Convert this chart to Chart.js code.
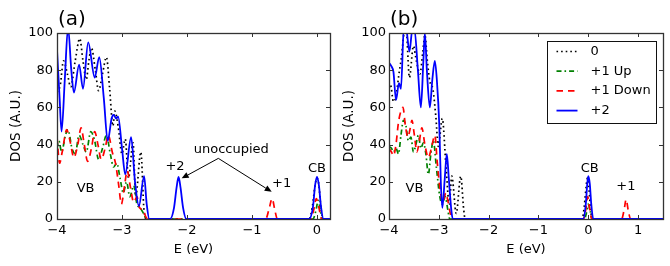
<!DOCTYPE html>
<html><head><meta charset="utf-8">
<script src="https://cdn.jsdelivr.net/npm/chart.js@4.4.0/dist/chart.umd.min.js"></script>
<style>
html,body{margin:0;padding:0;background:#fff;}
#wrap{position:relative;width:670px;height:266px;overflow:hidden;}
.c{position:absolute;top:0;width:335px;height:266px;}
</style></head><body>
<div id="wrap">
<div class="c" style="left:0"><canvas id="ca" width="335" height="266"></canvas></div>
<div class="c" style="left:335px"><canvas id="cb" width="335" height="266"></canvas></div>
</div>
<script>
// ---------- DATA (E in eV, DOS in A.U.) ----------
const seriesNames = ["0", "+1 Up", "+1 Down", "+2"];
const yTicks = [0, 20, 40, 60, 80, 100];
const xTicksA = [-4, -3, -2, -1, 0];
const xTicksB = [-4, -3, -2, -1, 0, 1];

// Panel (a)
const a_dos0 = [[-4.0,68],[-3.95,72],[-3.90,85],[-3.84,78],[-3.79,71],[-3.72,85],[-3.65,97],[-3.60,85],[-3.55,75],[-3.51,85],[-3.47,92],[-3.41,80],[-3.36,69],[-3.30,78],[-3.24,87],[-3.19,70],[-3.14,50],[-3.11,58],[-3.06,50],[-3.00,35],[-2.95,43],[-2.90,22],[-2.83,41],[-2.79,12],[-2.71,36],[-2.66,4],[-2.62,0],[-2.4,0],[-0.12,0],[-0.07,7],[-0.03,18],[0.0,22],[0.03,18],[0.06,6],[0.10,0],[0.2,0]];
const a_up1 = [[-4.0,38],[-3.97,42],[-3.93,36],[-3.87,45],[-3.83,48],[-3.77,38],[-3.72,35],[-3.66,45],[-3.60,40],[-3.55,36],[-3.48,47],[-3.42,42],[-3.36,32],[-3.30,38],[-3.24,45],[-3.18,35],[-3.13,28],[-3.08,30],[-3.03,22],[-2.98,14],[-2.93,20],[-2.88,12],[-2.82,18],[-2.77,8],[-2.72,6],[-2.67,3],[-2.62,0],[-2.4,0],[-0.06,0],[-0.02,4],[0.02,10],[0.05,5],[0.09,0],[0.2,0]];
const a_down1 = [[-4.0,44],[-3.96,30],[-3.92,36],[-3.85,48],[-3.80,42],[-3.74,33],[-3.68,40],[-3.63,49],[-3.58,40],[-3.53,31],[-3.47,38],[-3.42,47],[-3.37,40],[-3.32,32],[-3.26,38],[-3.21,45],[-3.15,36],[-3.10,30],[-3.05,18],[-3.01,8],[-2.96,18],[-2.92,26],[-2.87,17],[-2.82,9],[-2.77,12],[-2.73,6],[-2.68,5],[-2.63,1],[-2.60,0],[-0.79,0],[-0.74,5],[-0.69,11],[-0.65,5],[-0.61,0],[-0.10,0],[-0.05,5],[-0.01,11],[0.03,6],[0.07,0],[0.2,0]];
const a_plus2 = [[-4.0,91],[-3.96,65],[-3.93,47],[-3.88,75],[-3.83,103],[-3.78,80],[-3.74,68],[-3.66,83],[-3.60,70],[-3.52,95],[-3.42,76],[-3.35,87],[-3.28,65],[-3.22,42],[-3.16,54],[-3.13,56],[-3.09,54],[-3.06,55],[-3.00,38],[-2.95,24],[-2.86,44],[-2.80,20],[-2.74,7],[-2.66,23],[-2.62,8],[-2.58,0],[-2.26,0],[-2.20,6],[-2.16,17],[-2.13,22.7],[-2.10,17],[-2.06,6],[-2.01,0],[-0.12,0],[-0.06,7],[-0.03,18],[0.0,22.7],[0.03,18],[0.06,7],[0.10,0],[0.2,0]];

// Panel (b)
const b_dos0 = [[-4.0,70],[-3.97,72],[-3.91,63],[-3.86,66],[-3.80,78],[-3.75,87],[-3.70,100],[-3.66,104],[-3.59,76],[-3.51,93],[-3.45,85],[-3.38,78],[-3.32,90],[-3.28,99],[-3.23,85],[-3.18,74],[-3.12,70],[-3.06,55],[-3.01,39],[-2.93,54],[-2.86,30],[-2.79,8],[-2.74,23],[-2.65,3],[-2.56,23],[-2.50,5],[-2.47,0],[-0.12,0],[-0.08,7],[-0.04,18],[-0.02,22],[0.01,18],[0.04,7],[0.08,0],[1.5,0]];
const b_up1 = [[-4.0,39],[-3.95,38],[-3.91,36],[-3.86,38],[-3.81,35],[-3.76,45],[-3.71,53],[-3.66,50],[-3.61,42],[-3.56,44],[-3.51,36],[-3.46,40],[-3.41,45],[-3.36,38],[-3.31,41],[-3.26,35],[-3.21,24],[-3.16,35],[-3.11,42],[-3.05,28],[-2.98,12],[-2.93,8],[-2.87,12],[-2.82,5],[-2.78,0],[-0.08,0],[-0.03,4],[0.0,8],[0.04,4],[0.08,0],[1.5,0]];
const b_down1 = [[-4.0,38],[-3.95,36],[-3.91,34],[-3.86,40],[-3.81,52],[-3.76,58],[-3.72,60],[-3.67,50],[-3.62,44],[-3.58,48],[-3.54,53],[-3.49,45],[-3.44,36],[-3.39,42],[-3.34,49],[-3.28,40],[-3.21,33],[-3.15,38],[-3.08,45],[-3.03,30],[-2.97,15],[-2.92,9],[-2.86,14],[-2.82,10],[-2.77,3],[-2.73,0],[-0.10,0],[-0.05,5],[-0.01,12],[0.03,5],[0.07,0],[0.67,0],[0.72,5],[0.76,10.5],[0.80,5],[0.85,0],[1.5,0]];
const b_plus2 = [[-4.0,84],[-3.95,82],[-3.91,79],[-3.86,64],[-3.80,73],[-3.76,70],[-3.70,104],[-3.65,102],[-3.59,90],[-3.53,102],[-3.49,102],[-3.42,80],[-3.36,60],[-3.31,85],[-3.28,100],[-3.24,80],[-3.18,60],[-3.13,75],[-3.08,85],[-3.04,75],[-2.99,50],[-2.96,20],[-2.93,6],[-2.88,22],[-2.84,35],[-2.80,22],[-2.75,5],[-2.72,0],[-0.10,0],[-0.05,8],[-0.02,19],[0.0,23],[0.03,19],[0.06,8],[0.10,0],[1.5,0]];

// Text annotations [text, E, DOS]
const a_notes = [["VB",-3.56,14.7],["+2",-2.185,26.3],["unoccupied",-1.318,35.5],["+1",-0.543,17.4],["CB",0.0,25.4]];
const a_arrows = [[-1.518,32.6,-2.082,21.85],[-1.518,32.6,-0.697,14.6]];
const b_notes = [["VB",-3.49,14.7],["CB",0.03,25.4],["+1",0.755,15.6]];

// ---------- STYLE ----------
const FONT = "'DejaVu Sans', 'Liberation Sans', sans-serif";
const styles = [
  {color:'#000000', dash:[1.6,3], width:1.7, order:3},
  {color:'#008000', dash:[5,3,1.6,3], width:1.7, order:2},
  {color:'#ff0000', dash:[6.5,5], width:1.7, order:1},
  {color:'#0000ff', dash:[], width:1.8, order:0},
];
const toPts = arr => arr.map(p => ({x:p[0], y:p[1]}));
const mkDatasets = list => list.map((arr,i) => ({
  label: seriesNames[i], data: toPts(arr),
  borderColor: styles[i].color, borderDash: styles[i].dash, borderWidth: styles[i].width,
  order: styles[i].order, pointRadius: 0, fill: false,
  cubicInterpolationMode: 'monotone', borderCapStyle: 'butt'
}));
const minus = v => v < 0 ? '\u2212' + Math.abs(v) : String(v);

const decor = {
  id: 'decor',
  afterDatasetsDraw(chart, args, o) {
    const {ctx, chartArea:{left,right,top,bottom}, scales:{x,y}} = chart;
    ctx.save();
    ctx.strokeStyle = '#333'; ctx.lineWidth = 1;
    ctx.beginPath();
    x.ticks.forEach(t => { const px = Math.round(x.getPixelForValue(t.value)) + 0.5;
      ctx.moveTo(px, bottom); ctx.lineTo(px, bottom - 4); ctx.moveTo(px, top); ctx.lineTo(px, top + 4); });
    y.ticks.forEach(t => { const py = Math.round(y.getPixelForValue(t.value)) + 0.5;
      ctx.moveTo(left, py); ctx.lineTo(left + 4, py); ctx.moveTo(right, py); ctx.lineTo(right - 4, py); });
    ctx.stroke();
    ctx.lineWidth = 1.3;
    ctx.strokeRect(Math.round(left)+0.5, Math.round(top)+0.5, Math.round(right-left), Math.round(bottom-top));
    ctx.fillStyle = '#000';
    ctx.font = '20px ' + FONT; ctx.textAlign = 'left'; ctx.textBaseline = 'alphabetic';
    ctx.fillText(o.tag, left + 1, top - 8);
    ctx.font = '13px ' + FONT; ctx.textAlign = 'center';
    (o.notes || []).forEach(n => ctx.fillText(n[0], x.getPixelForValue(n[1]), y.getPixelForValue(n[2])));
    (o.arrows || []).forEach(a => {
      const x0 = x.getPixelForValue(a[0]), y0 = y.getPixelForValue(a[1]);
      const x1 = x.getPixelForValue(a[2]), y1 = y.getPixelForValue(a[3]);
      const ang = Math.atan2(y1 - y0, x1 - x0), hl = 7, hw = 3;
      const bx = x1 - hl*Math.cos(ang), by = y1 - hl*Math.sin(ang);
      ctx.strokeStyle = '#000'; ctx.lineWidth = 1;
      ctx.beginPath(); ctx.moveTo(x0, y0); ctx.lineTo(bx, by); ctx.stroke();
      ctx.beginPath(); ctx.moveTo(x1, y1);
      ctx.lineTo(bx + hw*Math.sin(ang), by - hw*Math.cos(ang));
      ctx.lineTo(bx - hw*Math.sin(ang), by + hw*Math.cos(ang));
      ctx.closePath(); ctx.fill();
    });
    if (o.legend) {
      const bw = 109, bh = 82;
      const bxl = Math.round(right - 7.3 - bw) + 0.5, byt = Math.round(top + 7.7) + 0.5;
      ctx.fillStyle = '#fff'; ctx.fillRect(bxl, byt, bw, bh);
      ctx.strokeStyle = '#111'; ctx.lineWidth = 1; ctx.strokeRect(bxl, byt, bw, bh);
      ctx.textAlign = 'left'; ctx.textBaseline = 'middle'; ctx.font = '13px ' + FONT;
      chart.data.datasets.forEach((ds, i) => {
        const ry = byt + 10 + i * 19.7;
        ctx.strokeStyle = ds.borderColor; ctx.lineWidth = ds.borderWidth; ctx.setLineDash(ds.borderDash);
        ctx.beginPath(); ctx.moveTo(bxl + 9, ry); ctx.lineTo(bxl + 30, ry); ctx.stroke();
        ctx.setLineDash([]);
        ctx.fillStyle = '#000'; ctx.fillText(ds.label, bxl + 43, ry);
      });
    }
    ctx.restore();
  }
};

function makeChart(id, lists, xmin, xmax, xt, yAxisW, rightPad, yTitlePad, yTickPad, decorOpts) {
  return new Chart(document.getElementById(id), {
    type: 'line',
    data: { datasets: mkDatasets(lists) },
    options: {
      responsive: false, animation: false, parsing: true,
      layout: { padding: { top: 33, right: rightPad, left: 0, bottom: 0 } },
      plugins: { legend: { display: false }, tooltip: { enabled: false }, decor: decorOpts },
      scales: {
        x: { type: 'linear', min: xmin, max: xmax,
          afterBuildTicks: s => { s.ticks = xt.map(v => ({value: v})); },
          afterFit: s => { s.height = 47; },
          grid: { display: false, drawTicks: false }, border: { display: false },
          ticks: { padding: 4, color: '#000', font: { family: FONT, size: 13 }, callback: v => minus(v), maxRotation: 0, autoSkip: false },
          title: { display: true, text: 'E (eV)', color: '#000', font: { family: FONT, size: 13 }, padding: { top: 0, bottom: 9 } } },
        y: { type: 'linear', min: 0, max: 100,
          afterBuildTicks: s => { s.ticks = yTicks.map(v => ({value: v})); },
          afterFit: s => { s.width = yAxisW; },
          grid: { display: false, drawTicks: false }, border: { display: false },
          ticks: { padding: yTickPad, color: '#000', font: { family: FONT, size: 13 }, callback: v => String(v) },
          title: { display: true, text: 'DOS (A.U.)', color: '#000', font: { family: FONT, size: 13.5 }, padding: { top: yTitlePad, bottom: 0 } } }
      }
    },
    plugins: [decor]
  });
}

makeChart('ca', [a_dos0, a_up1, a_down1, a_plus2], -4, 0.2, xTicksA, 57, 5, 8, 4,
  { tag: '(a)', notes: a_notes, arrows: a_arrows, legend: false });
makeChart('cb', [b_dos0, b_up1, b_down1, b_plus2], -4, 1.5, xTicksB, 54, 7, 6, 3,
  { tag: '(b)', notes: b_notes, arrows: [], legend: true });
</script>
</body></html>
